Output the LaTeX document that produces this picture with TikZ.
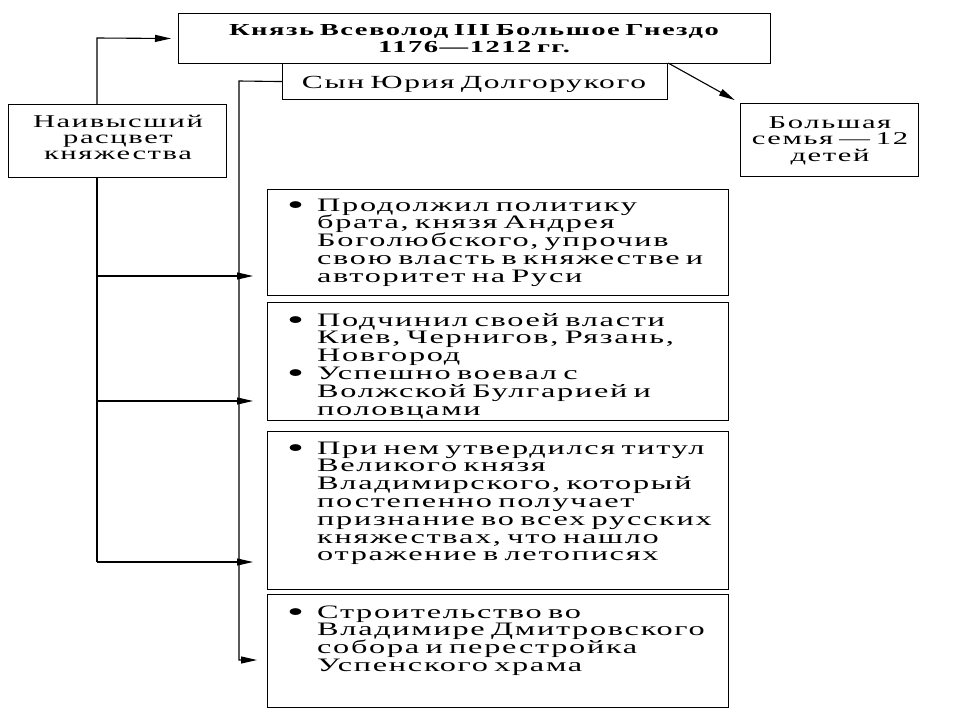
\documentclass[tikz,border=0pt]{standalone}
\usepackage{fontspec}
\setmainfont{Liberation Serif}[FakeStretch=1.7, LetterSpace=9, WordSpace=1.6]
\usetikzlibrary{arrows.meta}
\newcommand{\bul}{\makebox[30pt][l]{\raisebox{-3pt}{\scalebox{1.5}{\textbullet}}}}
\newcommand{\ind}{\hspace*{30pt}}
\begin{document}
\begin{tikzpicture}[x=1pt,y=-1pt,
  box/.style={draw, line width=1.1pt, inner sep=0pt, anchor=north west},
  ctxt/.style={inner sep=0pt, align=center, text width=#1, anchor=base},
  ltxt/.style={inner sep=0pt, align=left, text width=#1, anchor=base west},
  conn/.style={line width=1.1pt},
  arr/.style={line width=1.1pt, -{Triangle[length=16pt,width=7pt]}},
  every node/.append style={font=\fontsize{19}{17.8}\selectfont}
]
\useasboundingbox (0,0) rectangle (960,720);
\fill[white] (0,0) rectangle (960,720);

% boxes
\node[box, minimum width=592pt, minimum height=50pt] (top) at (178,13) {};
\node[box, minimum width=385pt, minimum height=36pt] (son) at (282,63) {};
\node[box, minimum width=218pt, minimum height=73pt] (left) at (8,104) {};
\node[box, minimum width=178pt, minimum height=73pt] (fam) at (740,103) {};
\node[box, minimum width=461pt, minimum height=106pt] (b1) at (267,189) {};
\node[box, minimum width=461pt, minimum height=118pt] (b2) at (267,302) {};
\node[box, minimum width=461pt, minimum height=158pt] (b3) at (267,431) {};
\node[box, minimum width=461pt, minimum height=113pt] (b4) at (267,594) {};

% texts
\node[ctxt=590pt, font=\fontsize{16.8}{17}\selectfont\bfseries] (toptext) at (474,35) {Князь Всеволод III Большое Гнездо\\1176—1212 гг.};
\node[ctxt=380pt, font=\fontsize{18.5}{18}\selectfont] (sontext) at (474,88) {Сын Юрия Долгорукого};
\node[ctxt=216pt, font=\fontsize{18}{16.2}\selectfont] (lefttext) at (118,127) {Наивысший\\расцвет\\княжества};
\node[ctxt=178pt, font=\fontsize{18}{16.5}\selectfont] (famtext) at (830,128) {Большая\\семья — 12\\детей};

\node[ltxt=450pt] (t1) at (287,211) {\bul Продолжил политику\\\ind брата, князя Андрея\\\ind Боголюбского, упрочив\\\ind свою власть в княжестве и\\\ind авторитет на Руси};
\node[ltxt=450pt] (t2) at (287,326) {\bul Подчинил своей власти\\\ind Киев, Чернигов, Рязань,\\\ind Новгород\\\bul Успешно воевал с\\\ind Волжской Булгарией и\\\ind половцами};
\node[ltxt=450pt] (t3) at (287,454) {\bul При нем утвердился титул\\\ind Великого князя\\\ind Владимирского, который\\\ind постепенно получает\\\ind признание во всех русских\\\ind княжествах, что нашло\\\ind отражение в летописях};
\node[ltxt=450pt] (t4) at (287,618) {\bul Строительство во\\\ind Владимире Дмитровского\\\ind собора и перестройка\\\ind Успенского храма};

% connectors
\coordinate (c1) at (97,38);
\draw[arr, shorten >=7pt] (left.north -| c1) -- (c1) -- (top.west);
\coordinate (c2) at (239,81);
\coordinate (c3) at (239,660);
\draw[arr, shorten >=10pt] (son.west) -- (c2) -- (c3) -- (c3 -| b4.west);
\coordinate (c4) at (97,562);
\draw[conn] (left.south -| c1) -- (c4);
\coordinate (h1) at (97,276);
\coordinate (h2) at (97,401);
\draw[arr, shorten >=14pt] (h1) -- (h1 -| b1.west);
\draw[arr, shorten >=14pt] (h2) -- (h2 -| b2.west);
\draw[arr, shorten >=14pt] (c4) -- (c4 -| b3.west);
\draw[arr, shorten >=6pt] (son.north east) -- (fam.north west);
\end{tikzpicture}
\end{document}
